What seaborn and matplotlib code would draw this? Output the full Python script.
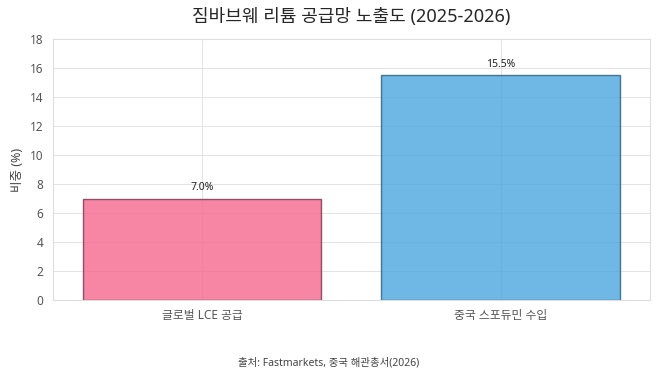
import matplotlib
matplotlib.use('Agg')
import matplotlib.pyplot as plt
import seaborn as sns
import pandas as pd

# 데이터
categories = ['글로벌 LCE 공급', '중국 스포듀민 수입']
shares = [7.0, 15.5]
bar_colors = ['#F66A90', '#4FA8DE']
edge_colors = ['#7A3550', '#2A5F82']

df = pd.DataFrame({'category': categories, 'share': shares})

sns.set_style('whitegrid')
plt.rcParams['font.family'] = ['Noto Sans', 'Noto Sans CJK KR', 'DejaVu Sans']

fig, ax = plt.subplots(figsize=(6.58, 3.78), dpi=100)
sns.barplot(data=df, x='category', y='share', hue='category',
            palette=bar_colors, width=0.8, alpha=0.82, saturation=1,
            legend=False, ax=ax)

for patch, ec in zip(ax.patches, edge_colors):
    patch.set_edgecolor(ec)
    patch.set_linewidth(1.0)

for i, v in enumerate(shares):
    ax.text(i, v + 0.35, f'{v:.1f}%', ha='center', va='bottom', fontsize=7.5, color='#222222')

ax.set_ylim(0, 18)
ax.set_yticks(range(0, 19, 2))
ax.set_xlim(-0.5, 1.5)
ax.set_xlabel('')
ax.set_ylabel('비중 (%)', fontsize=9, color='#444444')
ax.set_title('짐바브웨 리튬 공급망 노출도 (2025-2026)', fontsize=13, fontweight='medium', pad=12)

ax.tick_params(axis='both', labelsize=8.5, colors='#555555', length=3, width=0.8)
ax.grid(True, color='#E3E3E3', linewidth=0.7)
for s in ax.spines.values():
    s.set_color('#DDDDDD')
    s.set_linewidth(0.8)

fig.text(0.5, 0.025, '출처: Fastmarkets, 중국 해관총서(2026)', ha='center', va='bottom',
         fontsize=7.5, color='#444444')

fig.subplots_adjust(left=0.08, right=0.988, top=0.897, bottom=0.206)
fig.savefig('out.png', dpi=100)
